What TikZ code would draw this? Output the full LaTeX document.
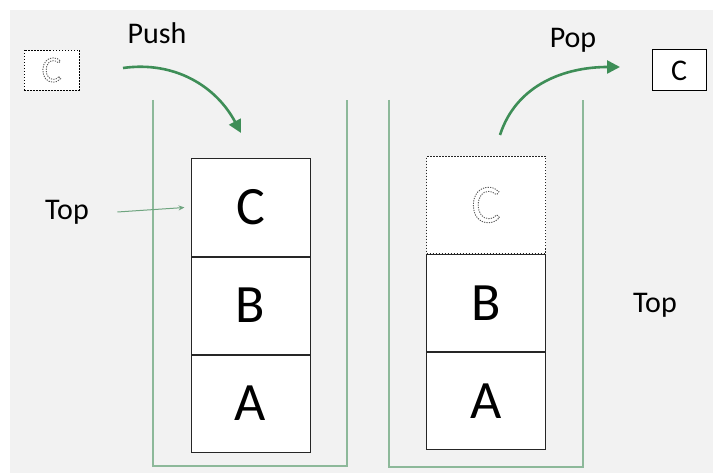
\documentclass[tikz,border=0pt]{standalone}
\usepackage{fontspec}
\setmainfont{Carlito}
\usepackage{tikz}
\usetikzlibrary{positioning}
\usetikzlibrary{arrows.meta}

\definecolor{bggray}{HTML}{F2F2F2}
\definecolor{wallgreen}{HTML}{8DB99A}
\definecolor{arrowgreen}{HTML}{3E8E57}
\definecolor{pointgreen}{HTML}{6FA580}

% letter drawn as a dotted outline only (stroke text mode)
\newcommand{\hollowC}{\special{pdf:code 1 Tr 0.9 w [1.2 1.2] 0 d}C\special{pdf:code 0 Tr [] 0 d}}

\begin{document}
\begin{tikzpicture}[x=1pt,y=1pt,
        cell/.style={draw=black!85,fill=white,line width=1pt,minimum width=119pt,minimum height=97pt,inner sep=0pt,font=\fontsize{54}{60}\selectfont},
        ghost/.style={cell,dash pattern=on 1.5pt off 1.5pt,text=black!65},
        wall/.style={wallgreen,line width=1.2pt},
        opname/.style={font=\fontsize{30}{34}\selectfont},
        curvearrow/.style={arrowgreen,line width=2.6pt,-{Triangle[length=13pt,width=13pt]}},
        pointer/.style={pointgreen,line width=1pt,-{Stealth[length=6pt,width=5pt]}}]
        \fill[bggray] (10,2) rectangle (713,465);
        \useasboundingbox (0,0) rectangle (713,475);

        % the two containers
        \coordinate (lwall) at (153,375);
        \coordinate (rwall) at (347,375);
        \coordinate (lwall2) at (389,375);
        \coordinate (rwall2) at (583,375);
        \draw[wall] (lwall) -- ++(0,-366) -| (rwall);
        \draw[wall] (lwall2) -- ++(0,-367) -| (rwall2);

        % stack after push
        \node[cell] (lc) at (250.5,267.5) {C};
        \node[cell,below=0pt of lc] (lb) {B};
        \node[cell,below=0pt of lb] (la) {A};

        % stack after pop
        \node[ghost] (rc) at (486,270) {\hollowC};
        \node[cell,below=0pt of rc] (rb) {B};
        \node[cell,below=0pt of rb] (ra) {A};

        % element coming in and going out
        \node[draw,dash pattern=on 1.5pt off 1.5pt,fill=white,minimum width=55pt,minimum height=40pt,inner sep=0pt,text=black!65,font=\fontsize{37}{40}\selectfont] (src) at (51.5,405) {\hollowC};
        \node[draw,fill=white,line width=1pt,minimum width=54pt,minimum height=41pt,inner sep=0pt,font=\fontsize{30}{34}\selectfont] (out) at (679,404.5) {C};

        \node[opname] (push) at (157,442) {Push};
        \node[opname] (pop) at (573,435) {Pop};
        \node[opname] (ltop) at (67,263) {Top};
        \node[opname] (rtop) at (655,170) {Top};

        \coordinate (pushin) at (123,407);
        \coordinate (pushend) at (241,342);
        \draw[curvearrow] (pushin) to[out=8,in=118] (pushend);

        \coordinate (popin) at (500,340);
        \coordinate (popend) at (620,408);
        \draw[curvearrow] (popin) to[out=72,in=180] (popend);

        \draw[pointer] ([xshift=25pt]ltop.east) -- ([xshift=-6pt]lc.west);
\end{tikzpicture}
\end{document}
